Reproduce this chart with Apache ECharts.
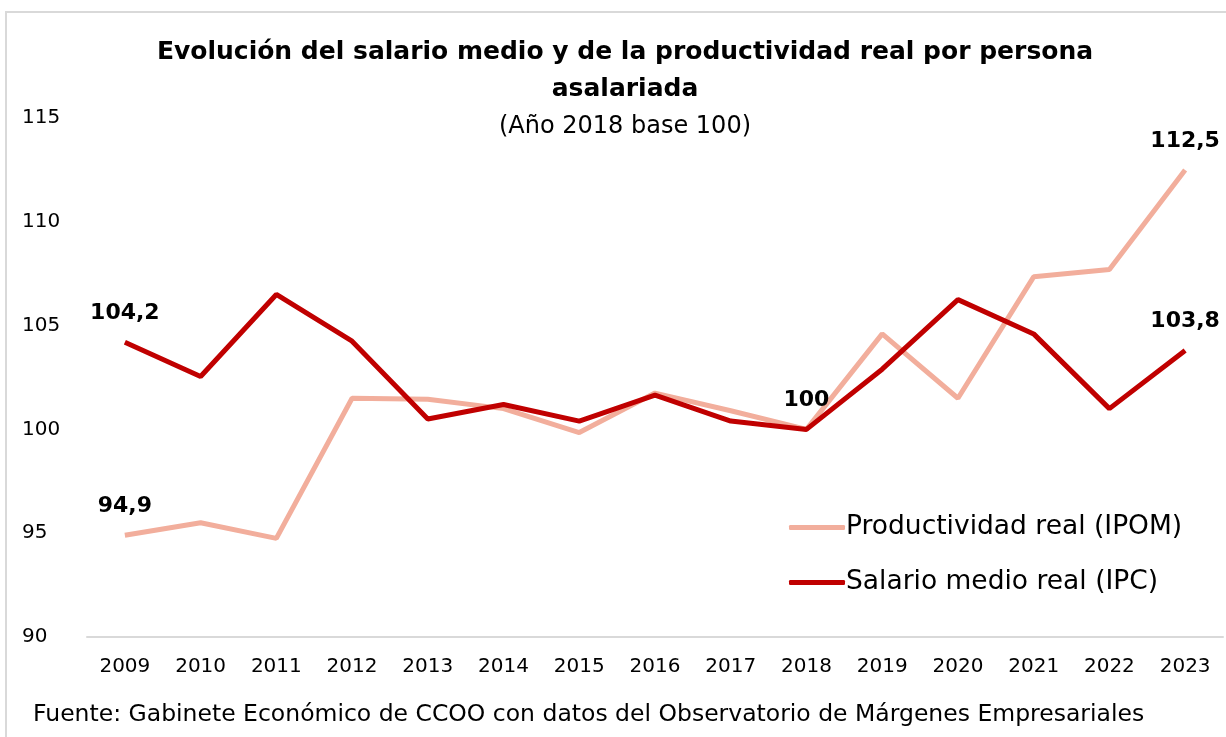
<!DOCTYPE html>
<html>
<head>
<meta charset="utf-8">
<script src="https://cdn.jsdelivr.net/npm/echarts@6/dist/echarts.min.js"></script>
<style>
  html, body { margin: 0; padding: 0; background: #fff; }
  #chart { width: 1226px; height: 737px; }
</style>
</head>
<body>
<div id="chart"></div>
<script>
// años
const years = ['2009', '2010', '2011', '2012', '2013', '2014', '2015', '2016', '2017', '2018', '2019', '2020', '2021', '2022', '2023']
// Productividad real (IPOM)
const productividad = [94.9, 95.5, 94.75, 101.5, 101.45, 101.0, 99.85, 101.75, 100.9, 100, 104.6, 101.5, 107.35, 107.7, 112.5]
// Salario medio real (IPC)
const salario = [104.2, 102.55, 106.5, 104.25, 100.5, 101.2, 100.4, 101.65, 100.4, 100, 102.9, 106.25, 104.6, 101.0, 103.8]
// que puntos llevan etiqueta
const labelProd = ['2009', '2023']
const labelSal = ['2009', '2018', '2023']

const FONT = 'DejaVu Sans'

function fmt(v) {
  return String(v).replace('.', ',')
}

function withLabels(values, keep) {
  return values.map((v, i) => ({
    value: v,
    label: { show: keep.indexOf(years[i]) !== -1 },
  }))
}

const chart = echarts.init(document.getElementById('chart'))

const labelStyle = {
  show: false,
  position: 'top',
  distance: 18,
  fontFamily: FONT,
  fontWeight: 'bold',
  fontSize: 22,
  color: '#000',
  formatter: (p) => fmt(p.value),
}

chart.setOption({
  animation: false,
  title: [
    {
      text: 'Evolución del salario medio y de la productividad real por persona\nasalariada',
      left: 620,
      top: 29,
      textAlign: 'center',
      textStyle: { fontFamily: FONT, fontWeight: 'bold', fontSize: 25, lineHeight: 37, color: '#000' },
    },
    {
      text: '(Año 2018 base 100)',
      left: 620,
      top: 110,
      textAlign: 'center',
      textStyle: { fontFamily: FONT, fontWeight: 'normal', fontSize: 24, color: '#000' },
    },
    {
      text: 'Fuente: Gabinete Económico de CCOO con datos del Observatorio de Márgenes Empresariales',
      left: 28,
      top: 698,
      textStyle: { fontFamily: FONT, fontWeight: 'normal', fontSize: 23.5, color: '#000' },
    },
  ],
  graphic: [
    {
      type: 'rect',
      shape: { x: 6, y: 12, width: 1240, height: 760 },
      style: { fill: 'none', stroke: '#d9d9d9', lineWidth: 2 },
      silent: true,
    },
  ],
  legend: {
    orient: 'vertical',
    left: 784,
    top: 509,
    itemGap: 28,
    itemWidth: 56,
    itemHeight: 5,
    icon: 'roundRect',
    textStyle: { fontFamily: FONT, fontSize: 26.5, color: '#000', padding: [0, 0, 0, -4] },
    data: ['Productividad real (IPOM)', 'Salario medio real (IPC)'],
  },
  grid: { left: 87, right: 3, top: 118, bottom: 100 },
  xAxis: {
    type: 'category',
    data: years,
    boundaryGap: true,
    axisLine: { lineStyle: { color: '#d9d9d9', width: 2 } },
    axisTick: { show: false },
    axisLabel: { fontFamily: FONT, fontSize: 20, color: '#000', margin: 20 },
  },
  yAxis: {
    type: 'value',
    min: 90,
    max: 115,
    interval: 5,
    splitLine: { show: false },
    axisLine: { show: false },
    axisTick: { show: false },
    axisLabel: { fontFamily: FONT, fontSize: 20, color: '#000', align: 'left', margin: 65 },
  },
  series: [
    {
      name: 'Productividad real (IPOM)',
      type: 'line',
      data: withLabels(productividad, labelProd),
      symbol: 'circle',
      symbolSize: 0,
      showSymbol: true,
      lineStyle: { color: '#F2AE9C', width: 5 },
      itemStyle: { color: '#F2AE9C' },
      label: labelStyle,
      z: 2,
    },
    {
      name: 'Salario medio real (IPC)',
      type: 'line',
      data: withLabels(salario, labelSal),
      symbol: 'circle',
      symbolSize: 0,
      showSymbol: true,
      lineStyle: { color: '#C00000', width: 5 },
      itemStyle: { color: '#C00000' },
      label: labelStyle,
      z: 3,
    },
  ],
})
</script>
</body>
</html>
